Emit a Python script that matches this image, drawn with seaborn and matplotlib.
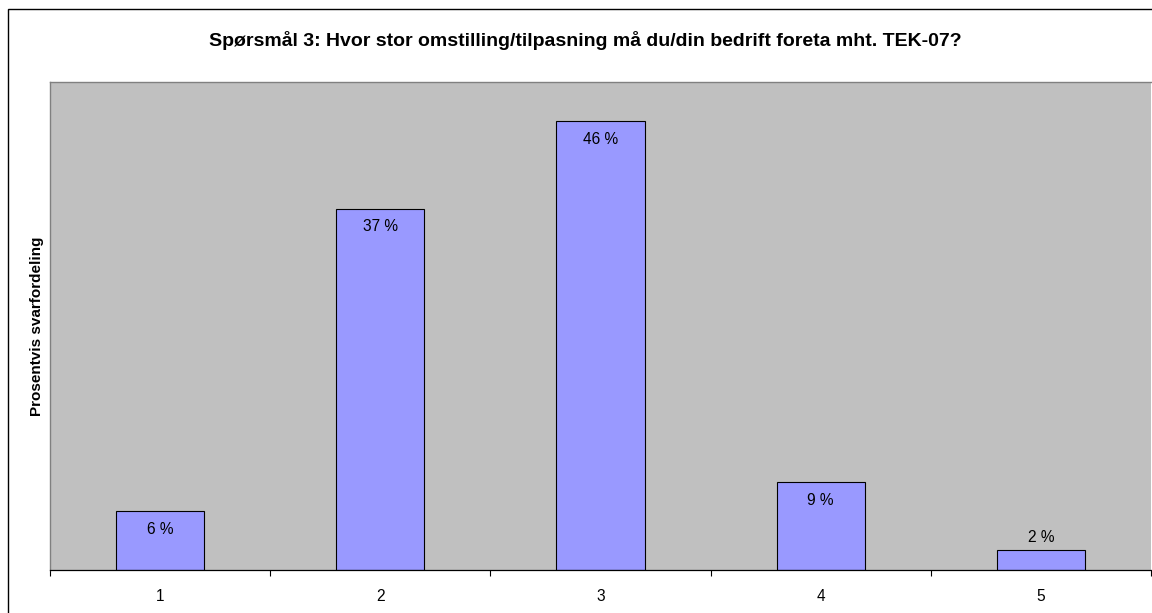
import matplotlib
matplotlib.use("Agg")
import matplotlib.pyplot as plt
import matplotlib.patches as mpatches
import seaborn as sns
import pandas as pd

categories = ["1", "2", "3", "4", "5"]
values = [6, 37, 46, 9, 2]
title = "Spørsmål 3: Hvor stor omstilling/tilpasning må du/din bedrift foreta mht. TEK-07?"
ylabel = "Prosentvis svarfordeling"

sns.set_theme(style="white")
plt.rcParams["font.family"] = ["Liberation Sans", "DejaVu Sans"]
plt.rcParams["text.color"] = "black"
plt.rcParams["axes.labelcolor"] = "black"

W, H = 1152, 613
fig = plt.figure(figsize=(W / 100, H / 100), dpi=100)
fig.patch.set_facecolor("white")

# chart frame
fig.patches.append(mpatches.Rectangle((8 / W, -0.05), 1.2, (H - 9) / H + 0.05,
                                      transform=fig.transFigure, fill=False,
                                      edgecolor="black", linewidth=1.0))

ax = fig.add_axes([50 / W, (H - 570) / H, 1101 / W, (570 - 82) / H])
ax.set_facecolor("#C0C0C0")

df = pd.DataFrame({"kategori": categories, "andel": values})
sns.barplot(data=df, x="kategori", y="andel", color="#9999FF", saturation=1,
            edgecolor="black", linewidth=0.8, width=0.4, ax=ax)

ax.set_ylim(0, 50)
ax.set_xlim(-0.5, len(categories) - 0.5)
ax.set_yticks([])
ax.set_xlabel("")
ax.set_ylabel(ylabel, fontsize=11, fontweight="bold", labelpad=4, color="black")

ax.tick_params(axis="x", which="major", bottom=True, length=0, pad=14,
               labelsize=11.2, colors="black")
ax.set_xticks([i - 0.5 for i in range(len(categories) + 1)], minor=True)
ax.tick_params(axis="x", which="minor", bottom=True, length=4.5, width=0.8,
               color="black", direction="out")

for side in ["top", "left"]:
    ax.spines[side].set_color("#808080")
    ax.spines[side].set_linewidth(1.0)
ax.spines["right"].set_visible(False)
ax.spines["bottom"].set_color("black")
ax.spines["bottom"].set_linewidth(0.9)

for i, v in enumerate(values):
    if v >= 5:
        ax.annotate(f"{v} %", (i, v), xytext=(0, -13), textcoords="offset points",
                    ha="center", va="center", fontsize=11.2, color="black")
    else:
        ax.annotate(f"{v} %", (i, v), xytext=(0, 9.5), textcoords="offset points",
                    ha="center", va="center", fontsize=11.2, color="black")

fig.text(585 / W, 1 - 40 / H, title, ha="center", va="center",
         fontsize=14, fontweight="bold", color="black")

fig.savefig("out.png", dpi=100)
